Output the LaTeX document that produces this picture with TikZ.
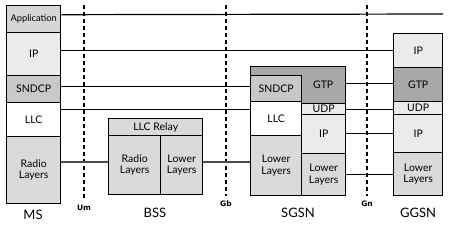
\documentclass[tikz,border=0pt]{standalone}
\usepackage{fontspec}
\setmainfont{Lato}
\newfontfamily\ifacefont{DejaVu Sans}
\usepackage{tikz}
\usetikzlibrary{positioning}
\definecolor{appgray}{RGB}{214,214,214}
\definecolor{ipgray}{RGB}{235,235,235}
\definecolor{sndcpgray}{RGB}{200,200,200}
\definecolor{radiogray}{RGB}{218,218,218}
\definecolor{gtpgray}{RGB}{168,168,168}

\begin{document}
\begin{tikzpicture}[x=1pt, y=-1pt, font=\fontsize{10.5}{11.5}\selectfont,
  layer/.style={draw, line width=1.4pt, inner sep=0pt, align=center, anchor=north west},
  link/.style={line width=1.2pt},
  radiolink/.style={line width=1.6pt, color=black!70},
  iface/.style={line width=1.5pt, dash pattern=on 4pt off 3pt},
  ifacelabel/.style={font=\ifacefont\fontsize{7.5}{7.5}\selectfont\bfseries},
  nodelabel/.style={font=\fontsize{13}{13}\selectfont}]

  \useasboundingbox (0,0) rectangle (450,232);

  % --- Interfaces ---
  \coordinate (umtop) at (84,5);  \coordinate (umbot) at (84,199);
  \coordinate (gbtop) at (226,5); \coordinate (gbbot) at (226,196);
  \coordinate (gntop) at (367,5); \coordinate (gnbot) at (367,196);
  \draw[iface] (umtop) -- (umbot) node[below=1.5pt, ifacelabel] {Um};
  \draw[iface] (gbtop) -- (gbbot) node[below=1pt, ifacelabel] {Gb};
  \draw[iface] (gntop) -- (gnbot) node[below=1pt, ifacelabel] {Gn};

  % --- MS ---
  \node[layer, fill=appgray, minimum width=54, minimum height=27, font=\fontsize{9.3}{9.5}\selectfont] (msapp) at (6,5) {Application};
  \node[layer, fill=ipgray, minimum width=54, minimum height=43] (msip) at (6,32) {IP};
  \node[layer, fill=sndcpgray, minimum width=54, minimum height=27] (mssndcp) at (6,75) {SNDCP};
  \node[layer, fill=white, minimum width=54, minimum height=34] (msllc) at (6,102) {LLC};
  \node[layer, fill=radiogray, minimum width=54, minimum height=67] (msradio) at (6,136) {Radio\\Layers};

  % --- BSS ---
  \node[layer, fill=radiogray, minimum width=94, minimum height=17] (bssrelay) at (108,118) {LLC Relay};
  \node[layer, fill=radiogray, minimum width=52, minimum height=59] (bssradio) at (108,135) {Radio\\Layers};
  \node[layer, fill=radiogray, minimum width=42, minimum height=59] (bsslower) at (160,135) {Lower\\Layers};

  % --- SGSN ---
  \node[layer, fill=gtpgray, minimum width=95, minimum height=37] (sgcap) at (250,66) {};
  \node[inner sep=0pt, anchor=north west, minimum width=44, minimum height=37] (sggtp) at (301,66) {GTP};
  \node[layer, fill=sndcpgray, minimum width=51, minimum height=26] (sgsndcp) at (250,75) {SNDCP};
  \node[layer, fill=white, minimum width=51, minimum height=34] (sgllc) at (250,101) {LLC};
  \node[layer, fill=radiogray, minimum width=51, minimum height=60] (sglowa) at (250,135) {Lower\\Layers};
  \node[layer, fill=ipgray, minimum width=44, minimum height=11] (sgudp) at (301,103) {UDP};
  \node[layer, fill=ipgray, minimum width=44, minimum height=39] (sgip) at (301,114) {IP};
  \node[layer, fill=radiogray, minimum width=44, minimum height=42] (sglowb) at (301,153) {Lower\\Layers};

  % --- GGSN ---
  \node[layer, fill=ipgray, minimum width=49, minimum height=34] (ggip) at (393,33) {IP};
  \node[layer, fill=gtpgray, minimum width=49, minimum height=34] (gggtp) at (393,67) {GTP};
  \node[layer, fill=ipgray, minimum width=49, minimum height=13] (ggudp) at (393,101) {UDP};
  \node[layer, fill=ipgray, minimum width=49, minimum height=38] (ggipl) at (393,114) {IP};
  \node[layer, fill=radiogray, minimum width=49, minimum height=43] (gglower) at (393,152) {Lower\\Layers};

  % --- Peer links ---
  \coordinate (append) at (443,14);
  \draw[link] ([yshift=4.5pt]msapp.east) -- (append);
  \draw[link] (ggip.west -| msip.east) -- (ggip.west);
  \draw[link] ([yshift=3pt]mssndcp.east) -- ([yshift=3pt]mssndcp.east -| sgsndcp.west);
  \draw[link] ([yshift=10pt]msllc.east) -- ([yshift=10pt]msllc.east -| sgllc.west);
  \draw[radiolink] ([yshift=3pt]bssradio.west -| msradio.east) -- ([yshift=3pt]bssradio.west);
  \draw[radiolink] ([yshift=3pt]bsslower.east) -- ([yshift=3pt]bsslower.east -| sglowa.west);
  \draw[link] ([yshift=1pt]gggtp.west -| sggtp.east) -- ([yshift=1pt]gggtp.west);
  \draw[link] (sgudp.east) -- (sgudp.east -| ggudp.west);
  \draw[link] (ggipl.west -| sgip.east) -- (ggipl.west);
  \draw[link] (gglower.west -| sglowb.east) -- (gglower.west);

  % --- Entity names ---
  \node[nodelabel] (mslabel) at (33,215) {MS};
  \node[nodelabel] (bsslabel) at (155,213) {BSS};
  \node[nodelabel] (sgsnlabel) at (298,213) {SGSN};
  \node[nodelabel] (ggsnlabel) at (418,213) {GGSN};

\end{tikzpicture}
\end{document}
